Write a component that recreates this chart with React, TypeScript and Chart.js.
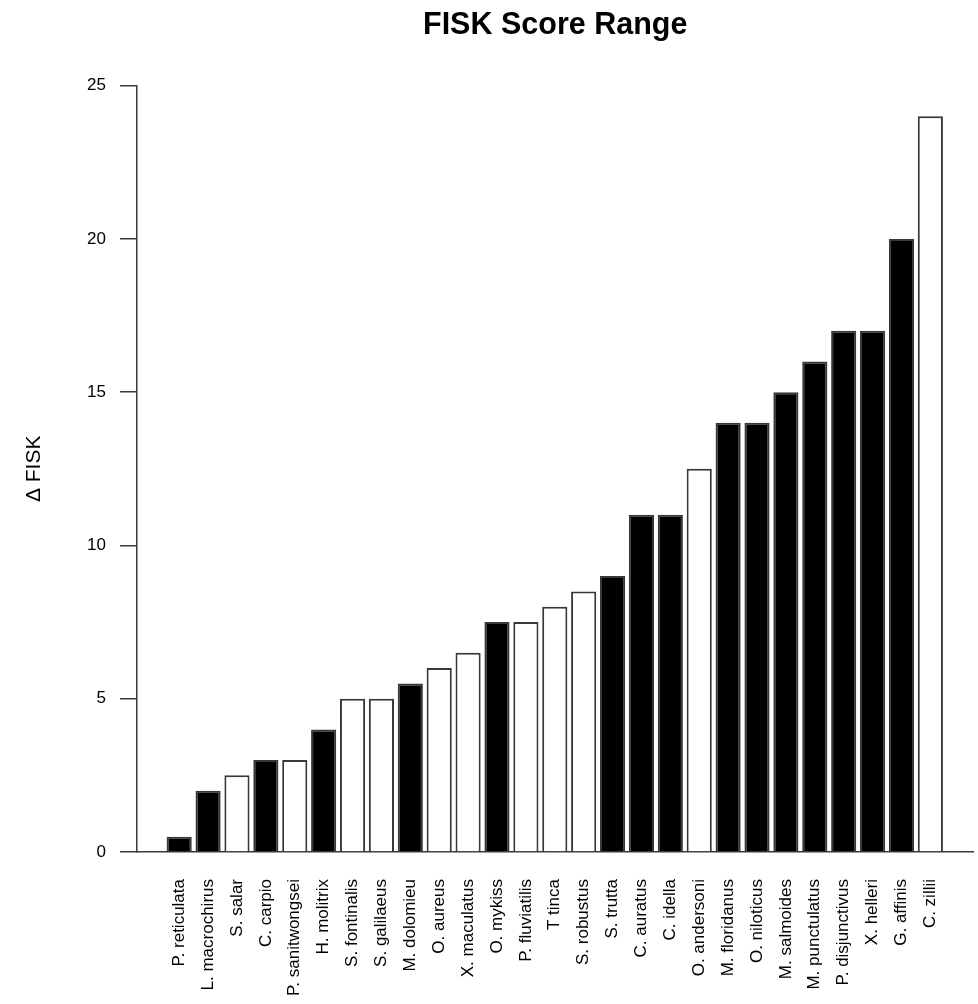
import { useEffect, useRef } from "react";
import { Chart, registerables } from "chart.js";

Chart.register(...registerables);

// Species, ordered by their FISK score range
const species = [
  "P. reticulata", "L. macrochirus", "S. salar", "C. carpio", "P. sanitwongsei",
  "H. molitrix", "S. fontinalis", "S. galilaeus", "M. dolomieu", "O. aureus",
  "X. maculatus", "O. mykiss", "P. fluviatilis", "T tinca", "S. robustus",
  "S. trutta", "C. auratus", "C. idella", "O. andersoni", "M. floridanus",
  "O. niloticus", "M. salmoides", "M. punctulatus", "P. disjunctivus", "X. helleri",
  "G. affinis", "C. zillii",
];

// Δ FISK for each species
const fiskRange = [
  0.5, 2, 2.5, 3, 3, 4, 5, 5, 5.5, 6, 6.5, 7.5, 7.5, 8, 8.5,
  9, 11, 11, 12.5, 14, 14, 15, 16, 17, 17, 20, 24,
];

// Solid (true) or open (false) bar for each species
const solidBar = [
  true, true, false, true, false, true, false, false, true, false, false, true, false, false, false,
  true, true, true, false, true, true, true, true, true, true, true, false,
];

const yTicks = [0, 5, 10, 15, 20, 25];

const FONT = "'Liberation Sans', Arial, Helvetica, sans-serif";

export default function App() {
  const canvasRef = useRef<HTMLCanvasElement | null>(null);

  useEffect(() => {
    const canvas = canvasRef.current;
    if (!canvas) return;

    const chart = new Chart(canvas, {
      type: "bar",
      data: {
        datasets: [
          {
            data: fiskRange.map((v, i) => ({ x: i, y: v })),
            backgroundColor: solidBar.map((s) => (s ? "#000000" : "#ffffff")),
            borderColor: "#383838",
            borderWidth: 2,
            categoryPercentage: 1,
            barPercentage: 0.87,
          },
        ],
      },
      options: {
        responsive: false,
        animation: false,
        maintainAspectRatio: false,
        layout: { padding: { left: 0, right: 3, top: 0, bottom: 0 } },
        plugins: {
          legend: { display: false },
          tooltip: { enabled: false },
          title: {
            display: true,
            text: "FISK Score Range",
            fullSize: false,
            color: "#000000",
            font: { family: FONT, size: 30.5, weight: "bold" },
            padding: { top: 7, bottom: 42 },
          },
        },
        scales: {
          x: {
            type: "linear",
            offset: false,
            min: -1.46,
            max: 27.49,
            grid: { display: false, drawTicks: false },
            border: { display: true, color: "#3a3a3a", width: 1.5 },
            afterBuildTicks: (scale: any) => {
              scale.ticks = species.map((_, i) => ({ value: i }));
            },
            afterFit: (scale: any) => {
              scale.height = 152;
            },
            ticks: {
              autoSkip: false,
              minRotation: 90,
              maxRotation: 90,
              padding: 27,
              color: "#000000",
              font: { family: FONT, size: 17 },
              callback: (value: any) => species[value as number] ?? "",
            },
          },
          y: {
            min: 0,
            max: 25,
            afterBuildTicks: (scale: any) => {
              scale.ticks = yTicks.map((v) => ({ value: v }));
            },
            afterFit: (scale: any) => {
              scale.width = 137;
            },
            grid: {
              drawOnChartArea: false,
              drawTicks: true,
              tickLength: 17,
              color: "#3a3a3a",
              lineWidth: 1.5,
            },
            border: { display: true, color: "#3a3a3a", width: 1.5 },
            ticks: {
              padding: 14,
              color: "#000000",
              font: { family: FONT, size: 17 },
            },
            title: {
              display: true,
              text: "\u0394 FISK",
              color: "#000000",
              font: { family: FONT, size: 21 },
              padding: { top: 22, bottom: 0 },
            },
          },
        },
      },
    });

    return () => chart.destroy();
  }, []);

  return (
    <div style={{ position: "absolute", left: 0, top: 0, width: 978, height: 1004, background: "#ffffff" }}>
      <canvas ref={canvasRef} width={978} height={1004} />
    </div>
  );
}
